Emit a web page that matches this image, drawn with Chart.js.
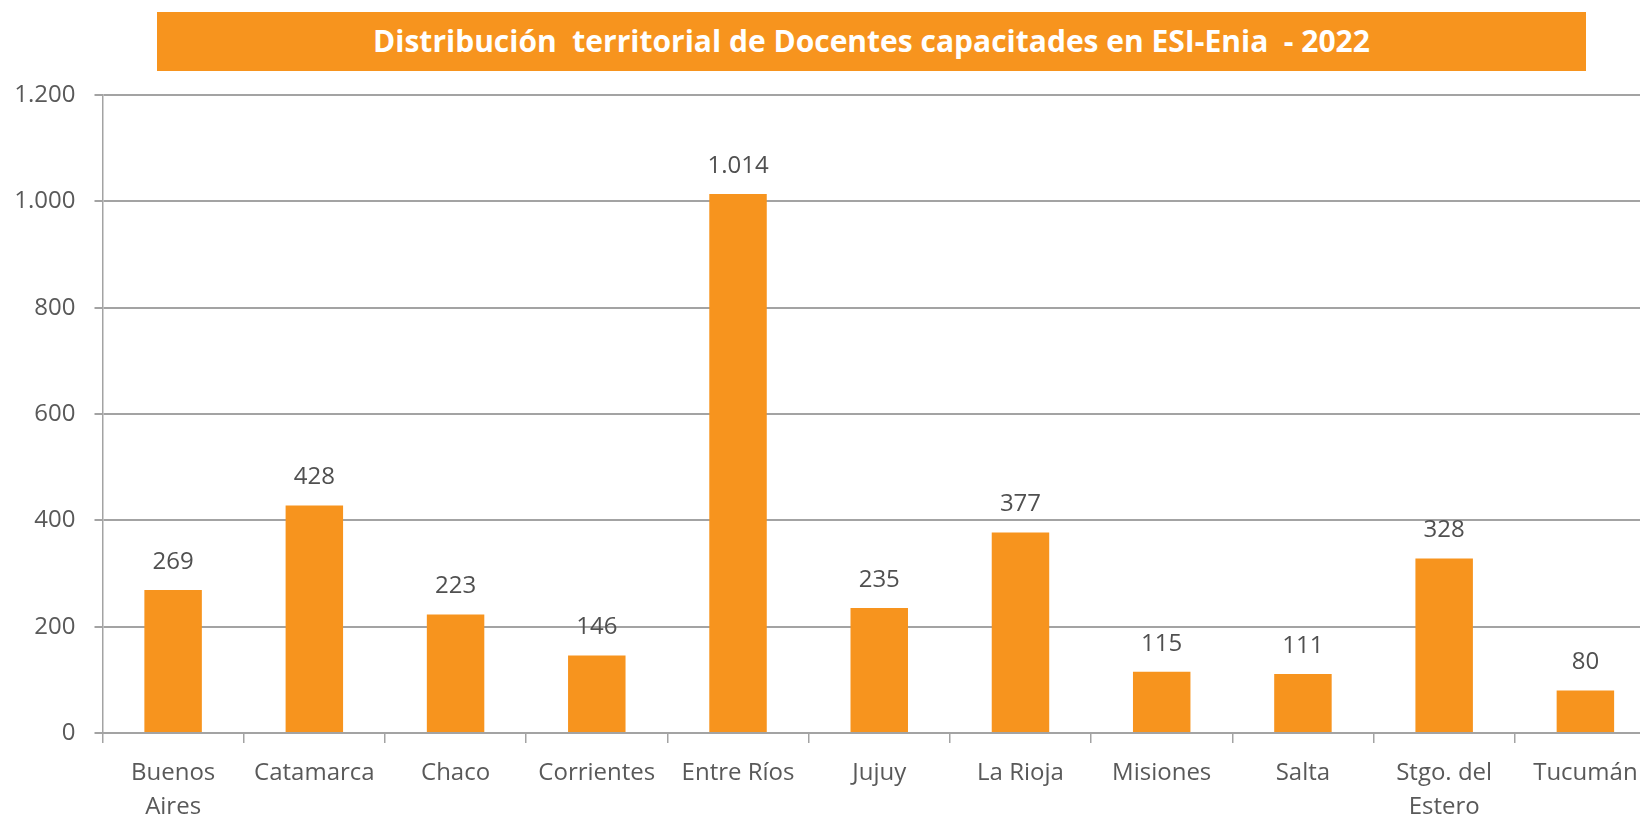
<!DOCTYPE html>
<html>
<head>
<meta charset="utf-8">
<script src="https://cdn.jsdelivr.net/npm/chart.js@4.4.1/dist/chart.umd.min.js"></script>
<style>
  html, body { margin:0; padding:0; width:1640px; height:819px; overflow:hidden; background:#ffffff; }
  #wrap { position:absolute; left:0; top:0; width:1720px; height:819px; }
  #title {
    position:absolute; left:157px; top:12px; width:1429px; height:59px;
    background:#F7941E; color:#ffffff; font-family:"Open Sans", sans-serif; font-weight:700;
    font-size:30px; line-height:58px; text-align:center; white-space:pre; z-index:2;
  }
</style>
</head>
<body>
<div id="wrap"><canvas id="c" width="1720" height="819"></canvas></div>
<div id="title">Distribución  territorial de Docentes capacitades en ESI-Enia  - 2022</div>
<script>
const categories = [["Buenos","Aires"],"Catamarca","Chaco","Corrientes","Entre Ríos","Jujuy","La Rioja","Misiones","Salta",["Stgo. del","Estero"],"Tucumán"];
const docentes = [269, 428, 223, 146, 1014, 235, 377, 115, 111, 328, 80];
const yTickValues = [0, 200, 400, 600, 800, 1000, 1200];
const yTickLabels = ["0", "200", "400", "600", "800", "1.000", "1.200"];
const dataLabels = ["269", "428", "223", "146", "1.014", "235", "377", "115", "111", "328", "80"];

const ORANGE = "#F7941E";
const TEXT = "#595959";
const GRID = "#a3a3a3";

const valueLabels = {
  id: "valueLabels",
  afterDatasetsDraw(chart) {
    const ctx = chart.ctx;
    const meta = chart.getDatasetMeta(0);
    ctx.save();
    ctx.font = "24px 'Open Sans'";
    ctx.fillStyle = "#505050";
    ctx.textAlign = "center";
    ctx.textBaseline = "middle";
    meta.data.forEach((bar, i) => {
      ctx.fillText(dataLabels[i], bar.x, bar.y - 28);
    });
    ctx.restore();
  }
};

new Chart(document.getElementById("c"), {
  type: "bar",
  data: {
    labels: categories,
    datasets: [{
      data: docentes,
      backgroundColor: ORANGE,
      borderWidth: 0,
      categoryPercentage: 1,
      barPercentage: 0.407
    }]
  },
  options: {
    responsive: false,
    animation: false,
    devicePixelRatio: 1,
    layout: { padding: { left: 0, right: 64, top: 95, bottom: 0 } },
    plugins: { legend: { display: false }, title: { display: false }, tooltip: { enabled: false } },
    scales: {
      x: {
        offset: true,
        grid: { offset: true, drawOnChartArea: false, drawTicks: true, tickLength: 10, color: GRID, lineWidth: 1.5 },
        border: { color: GRID, width: 2 },
        ticks: { color: TEXT, font: { family: "'Open Sans'", size: 24, lineHeight: 1.38 }, padding: 14, maxRotation: 0, autoSkip: false },
        afterFit(scale) { scale.height = 86; }
      },
      y: {
        min: 0, max: 1200,
        afterBuildTicks(scale) { scale.ticks = yTickValues.map(v => ({ value: v })); },
        grid: { color: GRID, lineWidth: 2, tickLength: 8, drawTicks: true },
        border: { color: GRID, width: 1.5 },
        ticks: {
          color: TEXT, font: { family: "'Open Sans'", size: 24 }, padding: 19,
          callback: (v) => yTickLabels[yTickValues.indexOf(v)]
        },
        afterFit(scale) { scale.width = 102.5; }
      }
    }
  },
  plugins: [valueLabels]
});
</script>
</body>
</html>
